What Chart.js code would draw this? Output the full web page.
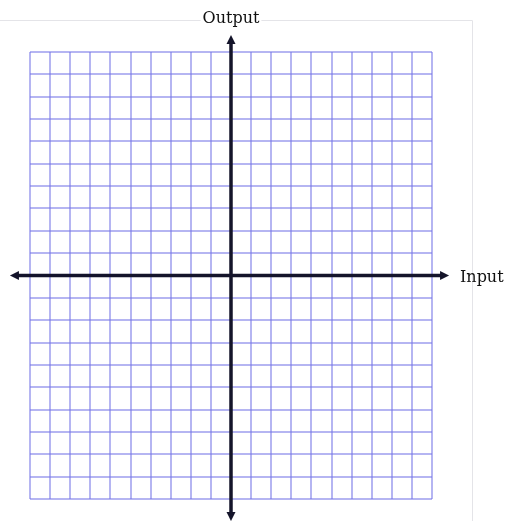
<!DOCTYPE html>
<html>
<head>
<meta charset="utf-8">
<script src="https://cdn.jsdelivr.net/npm/chart.js@4.4.1/dist/chart.umd.min.js"></script>
<style>
  html, body { margin: 0; padding: 0; background: #fff; }
  #wrap { width: 506px; height: 521px; }
</style>
</head>
<body>
<div id="wrap"><canvas id="grid-chart" width="506" height="521"></canvas></div>
<script>
// axis range of the graph paper
const xRange = [-10, 10];
const yRange = [-10, 10];
// axis lines run a bit past the paper, ends carry the arrowheads
const xAxisLine = [{x: -10.7, y: 0}, {x: 10.55, y: 0}];
const yAxisLine = [{x: 0, y: 10.49}, {x: 0, y: -10.72}];
const arrowHeads = [{x: -10.7, y: 0}, {x: 10.55, y: 0}, {x: 0, y: 10.49}, {x: 0, y: -10.72}];
const arrowRotation = [270, 90, 0, 180];
const xLabel = 'Input';
const yLabel = 'Output';

const AXIS_COLOR = '#14142a';
const GRID_COLOR = 'rgba(120,120,232,0.55)';

// faint frame of the original picture, arrowheads and axis captions
const paperDecor = {
    id: 'paperDecor',
    beforeDraw(chart) {
        const c = chart.ctx;
        c.save();
        c.strokeStyle = '#e4e4e8';
        c.lineWidth = 1;
        c.beginPath();
        c.moveTo(0, 20.5);
        c.lineTo(472.5, 20.5);
        c.lineTo(472.5, 521);
        c.stroke();
        c.restore();
    },
    afterDatasetsDraw(chart) {
        // points outside the chart area are skipped by Chart.js, so the
        // arrowheads are drawn here from the same data and scales
        const c = chart.ctx;
        const xs = chart.scales.x, ys = chart.scales.y;
        c.save();
        c.fillStyle = AXIS_COLOR;
        arrowHeads.forEach((p, i) => {
            const px = xs.getPixelForValue(p.x);
            const py = ys.getPixelForValue(p.y);
            c.save();
            c.translate(px, py);
            c.rotate(arrowRotation[i] * Math.PI / 180);
            c.beginPath();
            c.moveTo(0, -6);
            c.lineTo(4.5, 3);
            c.lineTo(-4.5, 3);
            c.closePath();
            c.fill();
            c.restore();
        });
        c.restore();
    },
    afterDraw(chart) {
        const c = chart.ctx;
        const xs = chart.scales.x, ys = chart.scales.y;
        const x0 = xs.getPixelForValue(0);
        const y0 = ys.getPixelForValue(0);
        c.save();
        c.font = '16px "DejaVu Serif"';
        c.textBaseline = 'middle';
        // Output on top, breaks the frame line
        const w = c.measureText(yLabel).width;
        c.fillStyle = '#fff';
        c.fillRect(x0 - w / 2 - 2, 10, w + 4, 18);
        c.fillStyle = '#111';
        c.textAlign = 'center';
        c.fillText(yLabel, x0, 19);
        // Input at the right end of the horizontal axis
        c.textAlign = 'left';
        c.fillText(xLabel, 460, y0 + 2);
        c.restore();
    }
};

const axisScale = (range) => ({
    type: 'linear',
    min: range[0],
    max: range[1],
    ticks: { display: false, stepSize: 1 },
    border: { display: false },
    grid: { color: GRID_COLOR, lineWidth: 2, drawTicks: false }
});

new Chart(document.getElementById('grid-chart').getContext('2d'), {
    type: 'scatter',
    data: {
        datasets: [
            {
                label: 'x axis',
                data: xAxisLine,
                showLine: true,
                borderColor: AXIS_COLOR,
                borderWidth: 3.5,
                pointRadius: 0,
                clip: false,
            },
            {
                label: 'y axis',
                data: yAxisLine,
                showLine: true,
                borderColor: AXIS_COLOR,
                borderWidth: 3.5,
                pointRadius: 0,
                clip: false,
            }
        ]
    },
    options: {
        responsive: false,
        animation: false,
        layout: { padding: { left: 30, right: 74, top: 52, bottom: 22 } },
        scales: { x: axisScale(xRange), y: axisScale(yRange) },
        plugins: { legend: { display: false }, tooltip: { enabled: false } }
    },
    plugins: [paperDecor]
});
</script>
</body>
</html>
